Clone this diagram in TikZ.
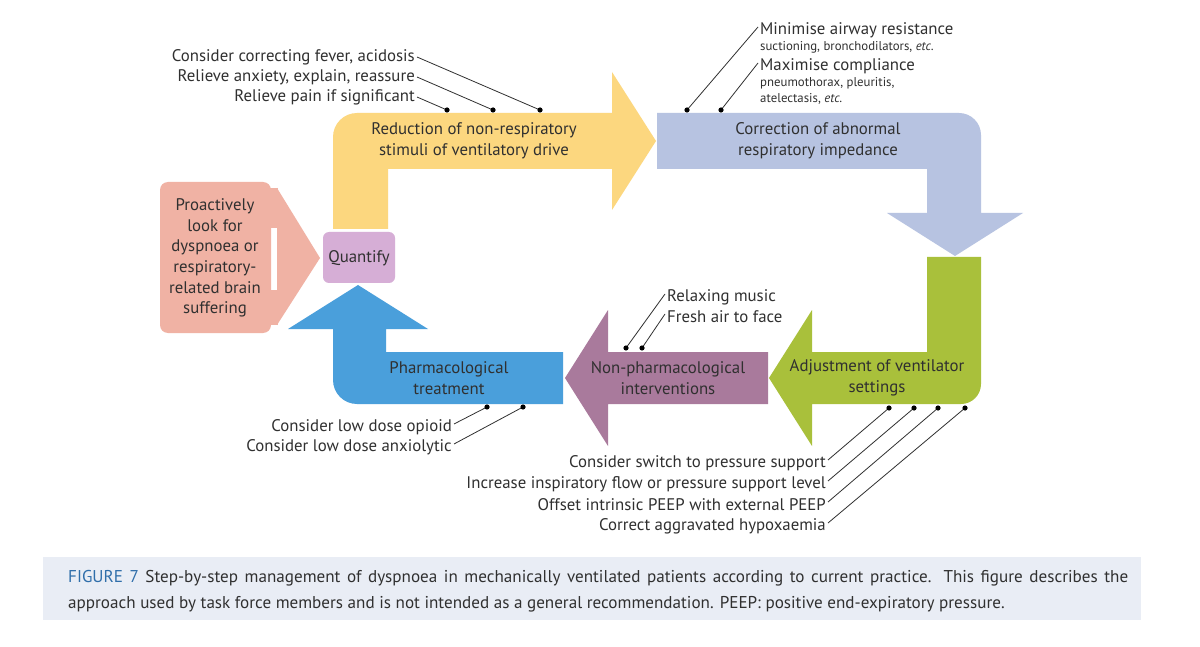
\documentclass[tikz,border=0pt]{standalone}
\usepackage{fontspec}
\setmainfont{PT Sans}
\usetikzlibrary{calc}
\definecolor{cyel}{HTML}{FCD77F}
\definecolor{clav}{HTML}{B7C3E1}
\definecolor{cgrn}{HTML}{A9C03B}
\definecolor{cmau}{HTML}{A97A9C}
\definecolor{cblu}{HTML}{4A9FDB}
\definecolor{cpnk}{HTML}{F0B2A4}
\definecolor{cqua}{HTML}{D6AED6}
\definecolor{ccap}{HTML}{E9EDF5}
\definecolor{cfig}{HTML}{2F6EAA}
\definecolor{ctxt}{HTML}{303030}
\tikzset{
  intext/.style={align=center, font=\fontsize{16.8}{20.6}\selectfont, text=ctxt, inner sep=0pt},
  lbl/.style={font=\fontsize{16.8}{20}\selectfont, text=ctxt, inner sep=0pt},
  small/.style={font=\fontsize{12.8}{16}\selectfont, text=ctxt, inner sep=0pt},
  lead/.style={draw=ctxt, line width=0.8pt},
  captext/.style={anchor=west, inner sep=0pt, font=\fontsize{17.1}{22}\selectfont, text=ctxt}
}
\begin{document}
\begin{tikzpicture}[x=1pt,y=-1pt]
\useasboundingbox (0,0) rectangle (1200,647);
\fill[white] (0,0) rectangle (1200,647);

% yellow arrow
\fill[cyel] (333,229) [rounded corners=24]-- (333,113) [sharp corners]-- (612,113) -- (612,72) -- (656,141) -- (612,210) -- (612,169) -- (388,169) -- (388,229) -- cycle;
% lavender arrow
\fill[clav] (657,113) [rounded corners=22]-- (981,113) [sharp corners]-- (981,213) -- (1023,213) -- (955,256) -- (887,213) -- (927,213) -- (927,169) -- (657,169) -- cycle;
% green arrow
\fill[cgrn] (927,257) -- (981,257) [rounded corners=20]-- (981,404) [sharp corners]-- (812,404) -- (812,446) -- (769,378) -- (812,310) -- (812,352) -- (927,352) -- cycle;
% mauve arrow
\fill[cmau] (768,352) -- (768,404) -- (608,404) -- (608,446) -- (565,378) -- (608,310) -- (608,352) -- cycle;
% blue arrow
\fill[cblu] (563,352) -- (563,404) [rounded corners=24]-- (333,404) [sharp corners]-- (333,329) -- (288,329) -- (358,285) -- (428,329) -- (386,329) -- (386,352) -- cycle;
% pink arrow
\fill[cpnk, rounded corners=8] (160,182) rectangle (271,333);
\fill[cpnk] (268,188) rectangle (278,228);
\fill[cpnk] (268,290) rectangle (278,325);
\fill[cpnk] (277,188) -- (320,258) -- (277,325) -- cycle;
% quantify
\fill[cqua, rounded corners=6] (323,232) rectangle (395,283);

% texts in shapes
\node[intext] (pro) at (215,258) {Proactively\\look for\\dyspnoea or\\respiratory-\\related brain\\suffering};
\node[intext] (qua) at (359,258) {Quantify};
\node[intext] (red) at (474,141) {Reduction of non-respiratory\\stimuli of ventilatory drive};
\node[intext] (cor) at (818,141) {Correction of abnormal\\respiratory impedance};
\node[intext] (adj) at (877,378) {Adjustment of ventilator\\settings};
\node[intext] (non) at (668,378) {Non-pharmacological\\interventions};
\node[intext] (pha) at (449,378) {Pharmacological\\treatment};

% top-left labels
\node[lbl, anchor=east] (t1) at (415,57) {Consider correcting fever, acidosis};
\node[lbl, anchor=east] (t2) at (415,77) {Relieve anxiety, explain, reassure};
\node[lbl, anchor=east] (t3) at (415,97) {Relieve pain if significant};
\coordinate (d1) at (540,110);
\coordinate (d2) at (493,110);
\coordinate (d3) at (447,110);
\draw[lead] ([xshift=2pt]t1.east) -- (d1);
\draw[lead] ([xshift=2pt]t2.east) -- (d2);
\draw[lead] ([xshift=2pt]t3.east) -- (d3);
\fill (d1) circle[radius=2.6pt] (d2) circle[radius=2.6pt] (d3) circle[radius=2.6pt];

% top-right labels
\node[lbl, anchor=west] (m1) at (760,30) {Minimise airway resistance};
\node[small, anchor=west] (m1s) at (760,47) {suctioning, bronchodilators, \textit{etc.}};
\node[lbl, anchor=west] (m2) at (760,66) {Maximise compliance};
\node[small, anchor=west, align=left] (m2s) at (760,91) {pneumothorax, pleuritis,\\atelectasis, \textit{etc.}};
\coordinate (e1) at (687,110);
\coordinate (e2) at (721,110);
\draw[lead] ([xshift=-2pt,yshift=3pt]m1.west) -- (e1);
\draw[lead] ([xshift=-2pt,yshift=3pt]m2.west) -- (e2);
\fill (e1) circle[radius=2.6pt] (e2) circle[radius=2.6pt];

% mauve labels
\node[lbl, anchor=west] (r1) at (667,297) {Relaxing music};
\node[lbl, anchor=west] (r2) at (667,317) {Fresh air to face};
\coordinate (f1) at (626,348);
\coordinate (f2) at (642,348);
\draw[lead] ([xshift=-2pt,yshift=3pt]r1.west) -- (f1);
\draw[lead] ([xshift=-2pt,yshift=3pt]r2.west) -- (f2);
\fill (f1) circle[radius=2.6pt] (f2) circle[radius=2.6pt];

% blue labels
\node[lbl, anchor=east] (b1) at (452,427) {Consider low dose opioid};
\node[lbl, anchor=east] (b2) at (452,447) {Consider low dose anxiolytic};
\coordinate (g1) at (487,407);
\coordinate (g2) at (523,407);
\draw[lead] ([xshift=2pt,yshift=3pt]b1.east) -- (g1);
\draw[lead] ([xshift=2pt,yshift=3pt]b2.east) -- (g2);
\fill (g1) circle[radius=2.6pt] (g2) circle[radius=2.6pt];

% green labels
\node[lbl, anchor=east] (v1) at (826,463) {Consider switch to pressure support};
\node[lbl, anchor=east] (v2) at (826,484) {Increase inspiratory flow or pressure support level};
\node[lbl, anchor=east] (v3) at (826,505) {Offset intrinsic PEEP with external PEEP};
\node[lbl, anchor=east] (v4) at (826,526) {Correct aggravated hypoxaemia};
\coordinate (h1) at (889,408);
\coordinate (h2) at (914,408);
\coordinate (h3) at (938,408);
\coordinate (h4) at (965,408);
\draw[lead] ([xshift=2pt,yshift=3pt]v1.east) -- (h1);
\draw[lead] ([xshift=2pt,yshift=3pt]v2.east) -- (h2);
\draw[lead] ([xshift=2pt,yshift=3pt]v3.east) -- (h3);
\draw[lead] ([xshift=2pt,yshift=3pt]v4.east) -- (h4);
\fill (h1) circle[radius=2.6pt] (h2) circle[radius=2.6pt] (h3) circle[radius=2.6pt] (h4) circle[radius=2.6pt];

% caption
\fill[ccap] (43,557) rectangle (1141,620);
\node[captext] (cap1) at (68,578)
  {\makebox[1060pt][s]{{\color{cfig}FIGURE 7} Step-by-step management of dyspnoea in mechanically ventilated patients according to current practice. This figure describes the}};
\node[captext] (cap2) at (68,604)
  {approach used by task force members and is not intended as a general recommendation. PEEP: positive end-expiratory pressure.};
\end{tikzpicture}
\end{document}
